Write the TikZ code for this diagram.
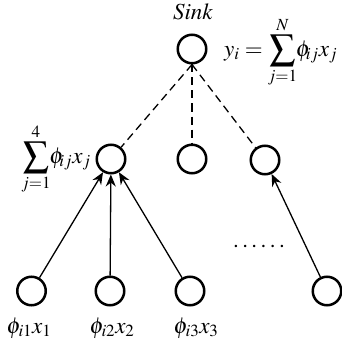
\documentclass[tikz,border=0pt]{standalone}
\usepackage[T1]{fontenc}
\usepackage{mathptmx}
\usepackage{graphicx}
\DeclareMathSizes{23}{23}{17}{13}
\newcommand{\bigsum}{\mathop{\vcenter{\hbox{\scalebox{1.6}{$\textstyle\sum$}}}}\limits}
\usetikzlibrary{arrows.meta}
\begin{document}
\begin{tikzpicture}[x=1pt,y=-1pt,
  nd/.style={circle,draw,line width=2.5pt,minimum size=28.5pt,inner sep=0pt},
  dsh/.style={line width=1.3pt,dash pattern=on 8pt off 5pt},
  arr/.style={line width=1.3pt,-{Stealth[length=12pt,width=10pt]}},
  lbl/.style={font=\fontsize{23}{27}\selectfont,inner sep=0pt}]
\useasboundingbox (0,0) rectangle (341,342);
\node[nd] (s) at (192,49) {};
\node[nd] (m1) at (111,159) {};
\node[nd] (m2) at (192,159) {};
\node[nd] (m3) at (265,160) {};
\node[nd] (b1) at (31.5,291) {};
\node[nd] (b2) at (110,291) {};
\node[nd] (b3) at (190,291) {};
\node[nd] (b4) at (327,291) {};
\draw[dsh] (s.south) -- (m1);
\draw[dsh] (s.south) -- (m2);
\draw[dsh] (s.south) -- (m3);
\draw[arr] (b1) -- (m1);
\draw[arr] (b2) -- (m1);
\draw[arr] (b3) -- (m1);
\draw[arr] (b4) -- (m3);
\node[lbl,anchor=base] (tsink) at (193,20) {\textit{Sink}};
\node[lbl,anchor=west] (ty) at (224,52) {$y_i=\bigsum_{j=1}^{N}\mkern-3mu\phi_{\mkern-2mu ij}x_{j}$};
\node[lbl,anchor=east] (tm) at (91,159) {$\bigsum_{j=1}^{4}\mkern-3mu\phi_{\mkern-2mu ij}x_{j}$};
\node[lbl,anchor=base] (t1) at (29,333) {$\phi_{i1}x_1$};
\node[lbl,anchor=base] (t2) at (112,333) {$\phi_{i2}x_2$};
\node[lbl,anchor=base] (t3) at (196,333) {$\phi_{i3}x_3$};
\node[lbl] (dots) at (259,246) {.\kern3.5pt.\kern3.5pt.\kern3.5pt.\kern3.5pt.\kern3.5pt.};
\end{tikzpicture}
\end{document}
